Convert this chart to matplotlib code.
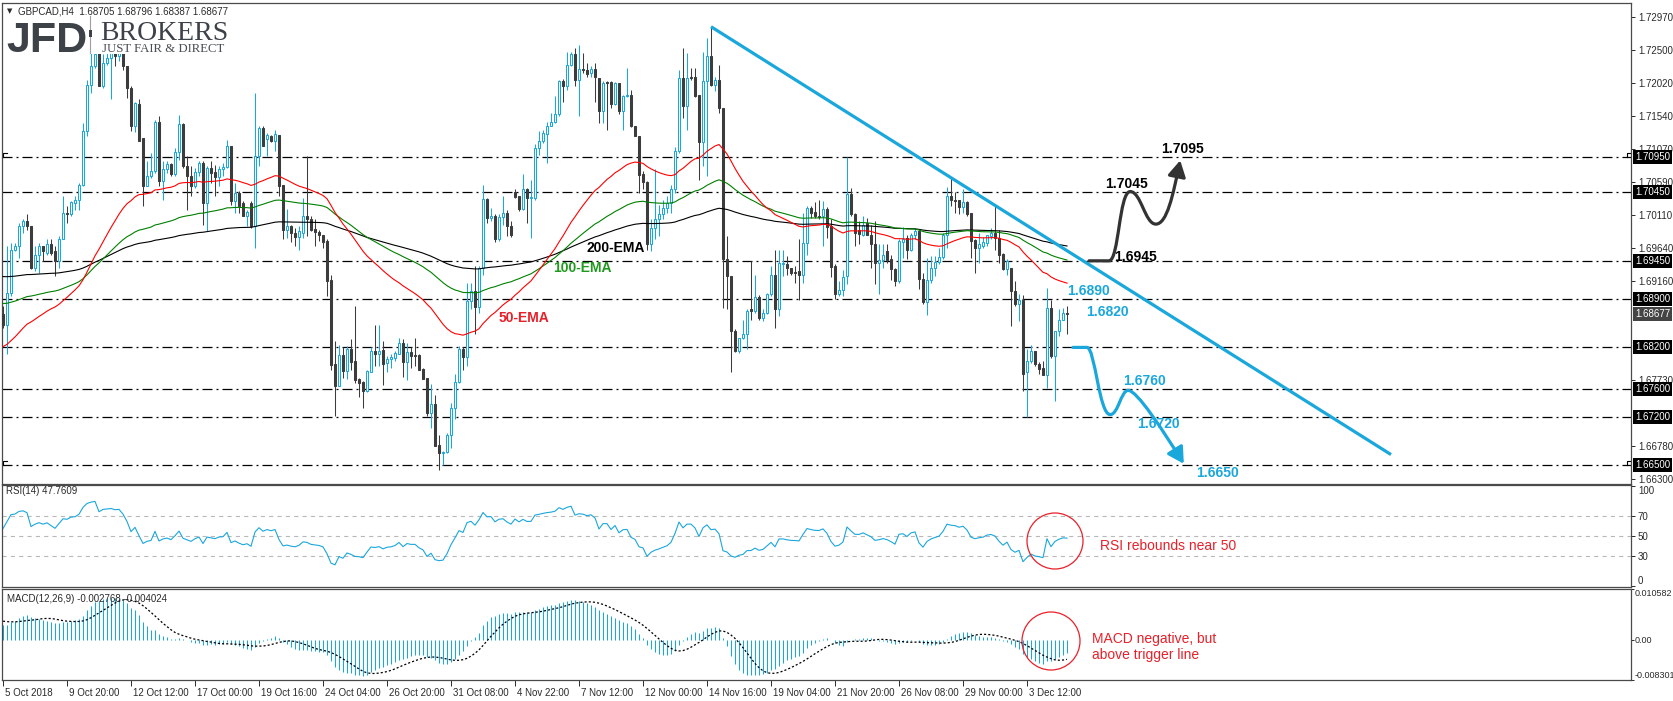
import numpy as np
import matplotlib
matplotlib.use("Agg")
import matplotlib.pyplot as plt
from matplotlib.patches import Rectangle, Ellipse, FancyArrowPatch
from matplotlib.path import Path
import matplotlib.transforms as mtransforms

plt.rcParams['font.family'] = ['Liberation Sans', 'DejaVu Sans']
plt.rcParams['lines.scale_dashes'] = False

# ---------------- data (GBPCAD H4 candles) ----------------
open_ = [1.6868,1.6853,1.6899,1.6961,1.6967,1.6996,1.7003,1.6996,1.6935,1.6954,
 1.6966,1.6957,1.6969,1.6959,1.6945,1.6977,1.7014,1.7013,1.7029,1.7033,
 1.7054,1.7132,1.7199,1.7226,1.7250,1.7197,1.7231,1.7238,1.7245,1.7240,
 1.7245,1.7226,1.7194,1.7139,1.7172,1.7123,1.7053,1.7067,1.7074,1.7146,
 1.7060,1.7078,1.7085,1.7071,1.7102,1.7143,1.7082,1.7067,1.7053,1.7073,
 1.7086,1.7029,1.7079,1.7073,1.7066,1.7078,1.7080,1.7111,1.7031,1.7043,
 1.7029,1.7009,1.7029,1.6995,1.7096,1.7137,1.7121,1.7125,1.7118,1.7127,
 1.7054,1.6989,1.6996,1.6985,1.6979,1.6985,1.7009,1.7006,1.6991,1.6987,
 1.6983,1.6973,1.6917,1.6796,1.6764,1.6809,1.6786,1.6817,1.6800,1.6774,
 1.6770,1.6757,1.6785,1.6815,1.6810,1.6816,1.6797,1.6804,1.6805,1.6811,
 1.6827,1.6799,1.6813,1.6809,1.6809,1.6789,1.6776,1.6726,1.6738,1.6679,
 1.6667,1.6669,1.6693,1.6733,1.6770,1.6817,1.6806,1.6887,1.6901,1.6879,
 1.6934,1.7034,1.7007,1.7009,1.6976,1.7008,1.7014,1.6996,1.7045,1.7038,
 1.7020,1.7048,1.7035,1.7036,1.7108,1.7118,1.7128,1.7140,1.7146,1.7157,
 1.7205,1.7198,1.7227,1.7244,1.7206,1.7222,1.7220,1.7216,1.7222,1.7209,
 1.7161,1.7203,1.7203,1.7172,1.7202,1.7161,1.7183,1.7185,1.7140,1.7125,
 1.7070,1.7059,1.6970,1.6993,1.7005,1.7012,1.7021,1.7029,1.7048,1.7104,
 1.7209,1.7168,1.7210,1.7210,1.7185,1.7116,1.7204,1.7240,1.7199,1.7206,
 1.7166,1.6948,1.6923,1.6844,1.6815,1.6833,1.6840,1.6875,1.6873,1.6893,
 1.6863,1.6870,1.6897,1.6924,1.6875,1.6941,1.6941,1.6934,1.6929,1.6930,
 1.6925,1.6971,1.7021,1.7015,1.7010,1.7009,1.7020,1.6995,1.6937,1.6897,
 1.6903,1.6923,1.7042,1.7012,1.6989,1.6983,1.6999,1.6983,1.6969,1.6942,
 1.6946,1.6959,1.6947,1.6933,1.6916,1.6972,1.6978,1.6960,1.6982,1.6988,
 1.6919,1.6885,1.6918,1.6934,1.6943,1.6951,1.6982,1.7039,1.7033,1.7033,
 1.7023,1.7030,1.7014,1.6975,1.6964,1.6967,1.6971,1.6981,1.6985,1.6978,
 1.6955,1.6933,1.6935,1.6901,1.6882,1.6889,1.6784,1.6800,1.6815,1.6796,
 1.6791,1.6780,1.6877,1.6807,1.6844,1.6860,1.6870]
high_ = [1.6880,1.6966,1.6971,1.6971,1.7000,1.7005,1.7012,1.6996,1.6966,1.6971,
 1.6967,1.6976,1.6976,1.6966,1.6981,1.7038,1.7024,1.7031,1.7038,1.7057,
 1.7144,1.7206,1.7250,1.7255,1.7258,1.7243,1.7245,1.7252,1.7250,1.7250,
 1.7247,1.7226,1.7197,1.7175,1.7178,1.7123,1.7089,1.7101,1.7149,1.7154,
 1.7089,1.7089,1.7086,1.7108,1.7156,1.7144,1.7096,1.7082,1.7079,1.7089,
 1.7089,1.7082,1.7089,1.7084,1.7082,1.7086,1.7119,1.7111,1.7058,1.7046,
 1.7031,1.7019,1.7031,1.7188,1.7139,1.7139,1.7130,1.7127,1.7134,1.7127,
 1.7054,1.7020,1.6997,1.6993,1.6995,1.7036,1.7096,1.7009,1.7005,1.6990,
 1.6983,1.6976,1.6925,1.6829,1.6823,1.6820,1.6822,1.6832,1.6880,1.6776,
 1.6772,1.6788,1.6820,1.6852,1.6852,1.6829,1.6808,1.6810,1.6815,1.6834,
 1.6832,1.6827,1.6820,1.6834,1.6810,1.6791,1.6776,1.6767,1.6751,1.6693,
 1.6671,1.6697,1.6740,1.6781,1.6822,1.6820,1.6913,1.6913,1.6937,1.6937,
 1.7055,1.7036,1.7021,1.7012,1.7012,1.7038,1.7019,1.7002,1.7048,1.7038,
 1.7070,1.7050,1.7062,1.7113,1.7132,1.7134,1.7146,1.7158,1.7183,1.7206,
 1.7207,1.7246,1.7246,1.7252,1.7256,1.7245,1.7231,1.7226,1.7231,1.7209,
 1.7204,1.7204,1.7204,1.7203,1.7202,1.7185,1.7223,1.7191,1.7140,1.7125,
 1.7074,1.7060,1.7005,1.7077,1.7026,1.7033,1.7038,1.7055,1.7110,1.7221,
 1.7252,1.7245,1.7223,1.7223,1.7185,1.7246,1.7267,1.7283,1.7211,1.7228,
 1.7166,1.6981,1.6923,1.6846,1.6834,1.6860,1.6875,1.6945,1.6925,1.6895,
 1.6875,1.6899,1.6937,1.6961,1.6961,1.6961,1.6952,1.6935,1.6938,1.6976,
 1.7014,1.7024,1.7024,1.7030,1.7033,1.7031,1.7023,1.7005,1.6940,1.6916,
 1.6932,1.7095,1.7050,1.7014,1.7002,1.7009,1.7007,1.6997,1.7002,1.6970,
 1.6969,1.6969,1.6954,1.6935,1.6976,1.6994,1.6983,1.6985,1.6993,1.6990,
 1.6928,1.6949,1.6952,1.6952,1.6964,1.6985,1.7052,1.7065,1.7045,1.7033,
 1.7048,1.7031,1.7014,1.6976,1.6985,1.6980,1.6983,1.6993,1.7026,1.6990,
 1.6957,1.6947,1.6935,1.6916,1.6897,1.6895,1.6817,1.6824,1.6815,1.6799,
 1.6800,1.6906,1.6889,1.6844,1.6875,1.6877,1.6880]
low_ = [1.6848,1.6810,1.6894,1.6959,1.6949,1.6985,1.6990,1.6933,1.6930,1.6928,
 1.6945,1.6954,1.6954,1.6923,1.6935,1.6976,1.7000,1.7009,1.7019,1.7019,
 1.7053,1.7125,1.7187,1.7223,1.7197,1.7194,1.7228,1.7178,1.7226,1.7233,
 1.7221,1.7180,1.7132,1.7131,1.7118,1.7024,1.7053,1.7065,1.7072,1.7053,
 1.7033,1.7072,1.7067,1.7067,1.7091,1.7079,1.7019,1.7038,1.7050,1.7067,
 1.6997,1.6988,1.7058,1.7038,1.7053,1.7067,1.7079,1.7026,1.7014,1.7014,
 1.7009,1.6996,1.6993,1.6964,1.7082,1.7111,1.7096,1.7116,1.7103,1.7038,
 1.6976,1.6978,1.6972,1.6966,1.6961,1.6978,1.6981,1.6988,1.6966,1.6973,
 1.6964,1.6894,1.6788,1.6721,1.6764,1.6776,1.6774,1.6788,1.6769,1.6748,
 1.6733,1.6755,1.6784,1.6793,1.6793,1.6766,1.6784,1.6791,1.6800,1.6810,
 1.6777,1.6773,1.6791,1.6793,1.6788,1.6774,1.6721,1.6704,1.6677,1.6643,
 1.6650,1.6668,1.6675,1.6716,1.6769,1.6788,1.6793,1.6875,1.6839,1.6869,
 1.6924,1.7000,1.7002,1.6972,1.6973,1.6997,1.6981,1.6980,1.7036,1.7017,
 1.7018,1.6999,1.6978,1.7033,1.7098,1.7115,1.7086,1.7139,1.7144,1.7154,
 1.7175,1.7192,1.7226,1.7197,1.7154,1.7216,1.7211,1.7211,1.7175,1.7144,
 1.7144,1.7134,1.7166,1.7170,1.7157,1.7134,1.7182,1.7138,1.7125,1.7043,
 1.7048,1.6961,1.6959,1.6976,1.6981,1.7005,1.7014,1.7014,1.7043,1.7101,
 1.7151,1.7134,1.7206,1.7182,1.7062,1.7082,1.7067,1.7197,1.7190,1.7158,
 1.6877,1.6875,1.6784,1.6813,1.6812,1.6832,1.6817,1.6860,1.6870,1.6860,
 1.6858,1.6868,1.6894,1.6848,1.6865,1.6923,1.6925,1.6925,1.6913,1.6889,
 1.6913,1.6954,1.7007,1.7007,1.7005,1.6967,1.6978,1.6921,1.6890,1.6894,
 1.6894,1.6911,1.7009,1.6966,1.6969,1.6981,1.6983,1.6935,1.6911,1.6897,
 1.6935,1.6942,1.6918,1.6909,1.6913,1.6949,1.6947,1.6959,1.6976,1.6905,
 1.6882,1.6867,1.6913,1.6923,1.6940,1.6948,1.6964,1.7024,1.7014,1.7012,
 1.7014,1.7010,1.6949,1.6928,1.6942,1.6964,1.6966,1.6976,1.6961,1.6942,
 1.6932,1.6925,1.6851,1.6880,1.6858,1.6757,1.6720,1.6798,1.6793,1.6781,
 1.6780,1.6762,1.6805,1.6743,1.6836,1.6860,1.6839]
close_ = [1.6853,1.6899,1.6961,1.6967,1.6996,1.7003,1.6996,1.6935,1.6954,1.6966,
 1.6959,1.6969,1.6957,1.6945,1.6977,1.7014,1.7012,1.7030,1.7033,1.7054,
 1.7132,1.7199,1.7226,1.7243,1.7197,1.7231,1.7238,1.7245,1.7240,1.7245,
 1.7226,1.7194,1.7139,1.7173,1.7118,1.7053,1.7068,1.7074,1.7146,1.7060,
 1.7078,1.7085,1.7071,1.7102,1.7143,1.7082,1.7067,1.7053,1.7073,1.7086,
 1.7029,1.7079,1.7072,1.7066,1.7078,1.7080,1.7111,1.7031,1.7043,1.7024,
 1.7010,1.7016,1.6995,1.7096,1.7137,1.7111,1.7126,1.7118,1.7128,1.7053,
 1.6990,1.6996,1.6985,1.6979,1.6988,1.7009,1.7005,1.6990,1.6986,1.6982,
 1.6972,1.6916,1.6794,1.6764,1.6809,1.6786,1.6817,1.6799,1.6773,1.6769,
 1.6757,1.6786,1.6815,1.6810,1.6815,1.6796,1.6804,1.6806,1.6812,1.6826,
 1.6799,1.6813,1.6808,1.6808,1.6788,1.6775,1.6726,1.6738,1.6678,1.6667,
 1.6669,1.6693,1.6733,1.6770,1.6817,1.6806,1.6887,1.6901,1.6879,1.6934,
 1.7034,1.7007,1.7009,1.6977,1.7008,1.7014,1.6995,1.6982,1.7037,1.7020,
 1.7048,1.7036,1.7037,1.7108,1.7118,1.7130,1.7140,1.7146,1.7157,1.7205,
 1.7198,1.7227,1.7244,1.7206,1.7222,1.7220,1.7214,1.7222,1.7210,1.7161,
 1.7201,1.7201,1.7172,1.7201,1.7161,1.7183,1.7185,1.7139,1.7125,1.7069,
 1.7059,1.6970,1.6993,1.7005,1.7012,1.7021,1.7029,1.7048,1.7104,1.7209,
 1.7168,1.7209,1.7209,1.7183,1.7116,1.7204,1.7240,1.7199,1.7206,1.7166,
 1.6947,1.6923,1.6844,1.6815,1.6833,1.6840,1.6873,1.6873,1.6893,1.6863,
 1.6870,1.6897,1.6924,1.6875,1.6942,1.6942,1.6934,1.6928,1.6927,1.6924,
 1.6971,1.7021,1.7014,1.7009,1.7008,1.7020,1.6994,1.6936,1.6897,1.6903,
 1.6922,1.7042,1.7012,1.6985,1.6984,1.6997,1.6983,1.6969,1.6942,1.6946,
 1.6953,1.6946,1.6933,1.6916,1.6973,1.6976,1.6960,1.6982,1.6988,1.6919,
 1.6885,1.6918,1.6934,1.6943,1.6951,1.6982,1.7039,1.7033,1.7031,1.7023,
 1.7030,1.7012,1.6973,1.6964,1.6969,1.6972,1.6982,1.6985,1.6978,1.6954,
 1.6933,1.6945,1.6901,1.6882,1.6889,1.6781,1.6800,1.6815,1.6796,1.6789,
 1.6780,1.6877,1.6808,1.6844,1.6860,1.6870,1.6868]

date_labels = ["5 Oct 2018", "9 Oct 20:00", "12 Oct 12:00", "17 Oct 00:00", "19 Oct 16:00",
               "24 Oct 04:00", "26 Oct 20:00", "31 Oct 08:00", "4 Nov 22:00", "7 Nov 12:00",
               "12 Nov 00:00", "14 Nov 16:00", "19 Nov 04:00", "21 Nov 20:00", "26 Nov 08:00",
               "29 Nov 00:00", "3 Dec 12:00"]
date_label_bars = [0, 16, 32, 48, 64, 80, 96, 112, 128, 144, 160, 176, 192, 208, 224, 240, 256]

levels = [1.7095, 1.7045, 1.6945, 1.6890, 1.6820, 1.6760, 1.6720, 1.6650]
marked_levels = [1.7095, 1.6650]
price_ticks = [1.72970, 1.72500, 1.72020, 1.71540, 1.71070, 1.70590, 1.70110,
               1.69640, 1.69160, 1.67730, 1.66780, 1.66300]
last_price = 1.68677
header = "GBPCAD,H4  1.68705 1.68796 1.68387 1.68677"
rsi_header = "RSI(14) 47.7609"
macd_header = "MACD(12,26,9) -0.002768 -0.004024"
rsi_levels = [70, 50, 30]
macd_range = (-0.008301, 0.010582)

# indicator warm-up values read at the left edge of the chart
ema_seed = {50: 1.6820, 100: 1.6884, 200: 1.6923}
macd_seed = {12: 1.6868, 26: 1.6833, "signal": 0.0040}
rsi_seed = {"gain": 0.0011, "loss": 0.0007}

# trend line anchors (bar index of the two touched highs) and extension
trend_bars = (177, 237)
trend_end_bar = 347

# ---------------- indicators ----------------
o = np.array(open_); h = np.array(high_); l = np.array(low_); c = np.array(close_)
n = len(c)
x = np.arange(n)

def ema(series, period, seed):
    a = 2.0 / (period + 1)
    out, v = [], seed
    for val in series:
        v = v + a * (val - v)
        out.append(v)
    return np.array(out)

ema50 = ema(c, 50, ema_seed[50])
ema100 = ema(c, 100, ema_seed[100])
ema200 = ema(c, 200, ema_seed[200])

e12 = ema(c, 12, macd_seed[12]); e26 = ema(c, 26, macd_seed[26])
macd = e12 - e26
hist = [macd_seed["signal"]] * 8 + list(macd)
signal = np.array([np.mean(hist[i:i + 9]) for i in range(n)])

ag, al, prev = rsi_seed["gain"], rsi_seed["loss"], o[0]
rsi = []
for val in c:
    ch = val - prev
    ag = (ag * 13 + max(ch, 0)) / 14
    al = (al * 13 + max(-ch, 0)) / 14
    rsi.append(100 - 100 / (1 + ag / al))
    prev = val
rsi = np.array(rsi)

# ---------------- figure ----------------
W, H = 1674, 701
fig = plt.figure(figsize=(W / 100, H / 100), dpi=100)
fig.patch.set_facecolor('white')

def px_axes(left, top, right, bottom):
    return fig.add_axes([left / W, 1 - bottom / H, (right - left) / W, (bottom - top) / H])

ax = px_axes(2, 3, 1631, 484)
ax_rsi = px_axes(2, 485, 1631, 587)
ax_macd = px_axes(2, 589, 1631, 680)

CYAN = '#1AA7DC'
DARK = '#3C3C3C'
TXT = '#2a2a2a'
RED = '#E8202A'
xlim = (-0.25, -0.25 + 1629 / 4)

for a in (ax, ax_rsi, ax_macd):
    a.set_xlim(*xlim)
    for s in a.spines.values():
        s.set_color('#4a4a4a'); s.set_linewidth(0.9)
    a.yaxis.tick_right()
    a.tick_params(axis='y', length=3, width=0.7, pad=2, labelsize=7, colors=TXT)
    a.tick_params(axis='x', length=0)
    a.set_xticks([])

# price panel
ax.set_ylim(1.7297 - 467 / 6927, 1.7297 + 14 / 6927)
for lv in levels:
    ax.axhline(lv, color='black', lw=0.9, dashes=(7.2, 2.9, 1.4, 2.9), zorder=1)
# small end markers of the two outer horizontal lines
px_y = (ax.get_ylim()[1] - ax.get_ylim()[0]) / 481.0
for lv in marked_levels:
    for xa, xb in ((0.0, 1.0), (406.0, 407.0)):
        ax.plot([xa, xa, xb], [lv, lv + 4 * px_y, lv + 4 * px_y], color='black', lw=0.8,
                zorder=2, clip_on=False)

ax.vlines(x, l, h, color=np.where(c >= o, CYAN, DARK), lw=0.75, zorder=3)
for i in range(n):
    bull = c[i] >= o[i]
    lo_, hi_ = min(o[i], c[i]), max(o[i], c[i])
    ax.add_patch(Rectangle((i - 0.25, lo_), 0.5, max(hi_ - lo_, 1e-6),
                           fc='white' if bull else DARK, ec=CYAN if bull else DARK,
                           lw=0.75, zorder=4))

ax.plot(x, ema200, color='black', lw=0.8, zorder=5)
ax.plot(x, ema100, color='#008000', lw=0.8, zorder=5)
ax.plot(x, ema50, color='#FF0000', lw=0.8, zorder=5)

# trend line through the two highs
b0, b1 = trend_bars
slope = (h[b1] - h[b0]) / (b1 - b0)
ax.plot([b0, trend_end_bar], [h[b0], h[b0] + slope * (trend_end_bar - b0)],
        color=CYAN, lw=2.3, solid_capstyle='butt', zorder=6)

# labels for the EMAs
ax.text(146, 1.6964, "200-EMA", color='black', fontsize=10, fontweight='bold', va='center', zorder=7)
ax.text(137.5, 1.6935, "100-EMA", color='#1f9a1f', fontsize=10, fontweight='bold', va='center', zorder=7)
ax.text(124, 1.6862, "50-EMA", color=RED, fontsize=10, fontweight='bold', va='center', zorder=7)

# scenario paths
C4 = Path.CURVE4
bull_path = Path([(271.5, 1.6945), (276.5, 1.6945),
                  (279.0, 1.6945), (279.0, 1.7045), (281.8, 1.7045),
                  (284.5, 1.7045), (285.5, 1.6998), (288.2, 1.6998),
                  (291.0, 1.6998), (292.5, 1.7040), (294.3, 1.7090)],
                 [Path.MOVETO, Path.LINETO, C4, C4, C4, C4, C4, C4, C4, C4, C4])
ax.add_patch(FancyArrowPatch(path=bull_path, arrowstyle='-|>,head_length=0.8,head_width=0.45',
                             mutation_scale=12, color='#333333', lw=2.3, zorder=7))
bear_path = Path([(267.5, 1.6820), (271.0, 1.6820),
                  (273.0, 1.6820), (274.0, 1.6723), (276.8, 1.6723),
                  (278.8, 1.6723), (279.5, 1.6758), (281.3, 1.6758),
                  (283.5, 1.6758), (290.0, 1.6700), (295.2, 1.6652)],
                 [Path.MOVETO, Path.LINETO, C4, C4, C4, C4, C4, C4, C4, C4, C4])
ax.add_patch(FancyArrowPatch(path=bear_path, arrowstyle='-|>,head_length=0.8,head_width=0.45',
                             mutation_scale=12, color=CYAN, lw=2.3, zorder=7))

# (text, bar position, price of the text centre, colour)
lvl_labels = [("1.7095", 289.5, 1.7106, 'black'), ("1.7045", 275.5, 1.7056, 'black'),
              ("1.6945", 277.8, 1.6951, 'black'), ("1.6890", 266.0, 1.6902, CYAN),
              ("1.6820", 270.8, 1.6871, CYAN), ("1.6760", 280.0, 1.6772, CYAN),
              ("1.6720", 283.5, 1.6709, CYAN), ("1.6650", 298.2, 1.6639, CYAN)]
for txt, bx, py, col in lvl_labels:
    ax.text(bx, py, txt, color=col, fontsize=10, fontweight='bold', va='center', zorder=8)

# right price scale
ax.set_yticks(price_ticks)
ax.set_yticklabels([f"{t:.5f}" for t in price_ticks])
lab_tr = mtransforms.blended_transform_factory(ax.transAxes, ax.transData) + \
    mtransforms.ScaledTranslation(4 / 100, 0, fig.dpi_scale_trans)
for lv in levels:
    ax.text(1.0, lv, f"{lv:.5f}", transform=lab_tr, color='white', fontsize=7, va='center', ha='left',
            bbox=dict(boxstyle='square,pad=0.2', fc='black', ec='none'), clip_on=False, zorder=9)
ax.text(1.0, last_price, f"{last_price:.5f}", transform=lab_tr, color='white', fontsize=7, va='center',
        ha='left', bbox=dict(boxstyle='square,pad=0.2', fc='#444444', ec='none'), clip_on=False, zorder=9)

# RSI panel
ax_rsi.set_ylim(-1, 101)
for lv in rsi_levels:
    ax_rsi.axhline(lv, color='#b8b8b8', lw=0.8, dashes=(3, 3))
ax_rsi.plot(x, rsi, color=CYAN, lw=0.8)
ax_rsi.set_yticks([100, 70, 50, 30, 0])
ax_rsi.set_yticklabels(['100', '70', '50', '30', '0'])
rl = ax_rsi.get_yticklabels()
rl[0].set_va('top'); rl[-1].set_va('bottom')

# MACD panel
ax_macd.set_ylim(*macd_range)
ax_macd.vlines(x, 0, macd, color=CYAN, lw=0.75)
ax_macd.plot(x, signal, color='black', lw=0.9, dashes=(1.5, 1.5))
ax_macd.set_yticks([macd_range[1], 0, macd_range[0]])
ax_macd.set_yticklabels(['0.010582', '0.00', '-0.008301'])
ax_macd.tick_params(axis='y', length=2, pad=0.5, labelsize=6.5)
ml = ax_macd.get_yticklabels()
ml[0].set_va('top'); ml[-1].set_va('bottom')

ax_macd.set_xticks(date_label_bars)
ax_macd.set_xticklabels(date_labels, ha='left')
ax_macd.tick_params(axis='x', length=4, width=0.7, pad=2, labelsize=7, colors=TXT)
off = mtransforms.ScaledTranslation(2 / 100, 0, fig.dpi_scale_trans)
for lab in ax_macd.get_xticklabels():
    lab.set_transform(lab.get_transform() + off)

# annotations in the indicator panels
fig.text(6 / W, 1 - 491 / H, rsi_header, fontsize=7, color=TXT, va='center')
fig.text(7 / W, 1 - 599 / H, macd_header, fontsize=7, color=TXT, va='center')
fig.patches.append(Ellipse((1055 / W, 1 - 541 / H), 56 / W, 56 / H, transform=fig.transFigure,
                           fill=False, ec=RED, lw=0.9, zorder=10))
fig.patches.append(Ellipse((1051 / W, 1 - 641 / H), 58 / W, 58 / H, transform=fig.transFigure,
                           fill=False, ec=RED, lw=0.9, zorder=10))
fig.text(1100 / W, 1 - 546 / H, "RSI rebounds near 50", fontsize=10, color=RED, va='center')
fig.text(1092 / W, 1 - 647 / H, "MACD negative, but\nabove trigger line", fontsize=10, color=RED,
         va='center', linespacing=1.15)

# header and logo
fig.patches.append(Rectangle((4 / W, 1 - 54 / H), 234 / W, 40 / H, transform=fig.transFigure,
                             fc='white', ec='none', zorder=5))
fig.text(7 / W, 1 - 11 / H, '▼', fontsize=5, color=TXT, va='center', family='DejaVu Sans', zorder=6)
fig.text(18 / W, 1 - 11 / H, header, fontsize=7, color=TXT, va='center', zorder=6)
fig.text(6 / W, 1 - 52.5 / H, 'JFD', fontsize=31, fontweight='bold', color='#3d4148',
         va='baseline', zorder=6)
fig.add_artist(plt.Line2D([90.5 / W, 90.5 / W], [1 - 16 / H, 1 - 53 / H], transform=fig.transFigure,
                          color='#a0a0a0', lw=0.8, zorder=6))
fig.patches.append(Rectangle((89 / W, 1 - 37 / H), 3 / W, 7 / H, transform=fig.transFigure,
                             fc='#3d4148', ec='none', zorder=7))
fig.text(100 / W, 1 - 39.5 / H, 'BROKERS', fontsize=20, family='Liberation Serif', color='#3d4148',
         va='baseline', zorder=6)
fig.text(102 / W, 1 - 52.5 / H, 'JUST FAIR & DIRECT', fontsize=9.2, family='Liberation Serif',
         color='#4a4e55', va='baseline', zorder=6)

fig.savefig('out.png', dpi=100, facecolor='white')
